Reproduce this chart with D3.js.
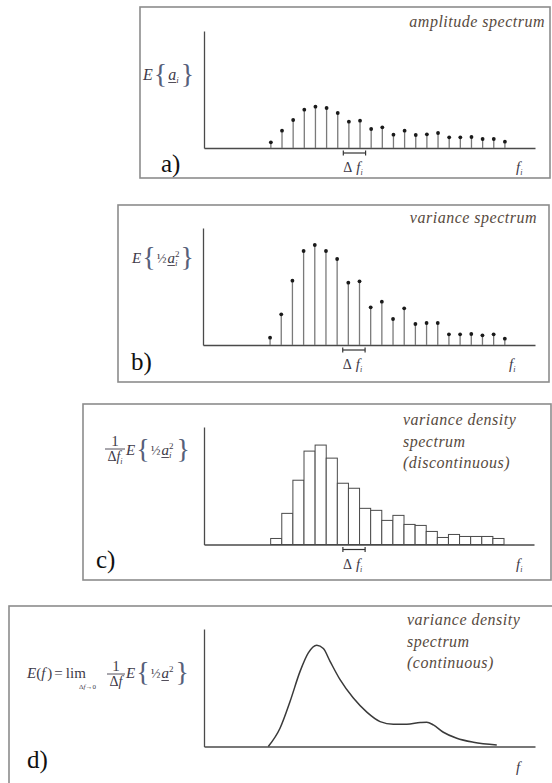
<!DOCTYPE html>
<html><head><meta charset="utf-8">
<script src="https://cdn.jsdelivr.net/npm/d3@7"></script>
<style>body{margin:0;background:#fff}</style>
</head><body><svg id="c" width="552" height="783"></svg>
<script>
// ---------- data ----------
const stemFreq = [6,7,8,9,10,11,12,13,14,15,16,17,18,19,20,21,22,23,24,25,26,27];
const amplitude = [5.7,17.3,28,38.3,41.3,40,35,26.3,27.3,19,20.7,13.3,17.3,13,13.7,15,10.7,10.7,11,9,9,6.3];
const variance  = [7.3,30.7,64.3,94,100,94,86,62.3,63.7,37.7,43.3,26,36.7,21,22,22,10.7,10.7,11,9.7,10.7,6.3];
const binStart  = [6,7,8,9,10,11,12,13,14,15,16,17,18,19,20,21,22,23,24,25,26];
const densityBins = [6,31,64,93,99,86,61,56,36,34,24,29,20,19,13,7,10,8,8,8,6];
const contFreq = [5.77,6.82,7.72,8.62,9.36,10.12,10.71,11.31,12.21,13.4,14.61,15.8,16.99,18.2,19.39,19.99,20.58,21.48,22.68,24.17,26.27];
const contDensity = [0,18.2,44.8,74.8,93.2,100.8,97.5,84.8,66.5,48.2,34.2,24.8,22.2,22.2,23.8,24.2,21.5,14.2,8.2,4.2,1.5];
const panelLabels = ["a)","b)","c)","d)"];
const titleA = ["amplitude spectrum"];
const titleB = ["variance spectrum"];
const titleC = ["variance density","spectrum","(discontinuous)"];
const titleD = ["variance density","spectrum","(continuous)"];
const bandwidth = [12.5,14.5];

// ---------- drawing ----------
const svg = d3.select("#c");
const serif = '"Liberation Serif"';
const fcol = "#3e3a48";
const bcol = "#56607a";

function rich(g, x, y, parts){
  let cx = x, maxw = 0;
  parts.forEach(p=>{
    if(p.gap) cx += p.gap;
    if(p.t===undefined) return;
    const t = g.append("text").attr("x",cx).attr("y",y+(p.dy||0)).text(p.t)
      .style("font-family",serif).attr("font-size",p.size||13)
      .style("font-style",p.italic?"italic":"normal").attr("fill",p.color||fcol);
    const w = t.node().getComputedTextLength();
    if(p.underline) g.append("line").attr("x1",cx).attr("x2",cx+w).attr("y1",y+2.5).attr("y2",y+2.5)
      .attr("stroke",p.color||fcol).attr("stroke-width",0.9);
    if(p.stack){ maxw = Math.max(maxw,w); }
    else { cx += Math.max(w,maxw); maxw = 0; }
  });
  return cx;
}
function frac(g, cx, ly, num, den, w){
  g.append("line").attr("x1",cx-w/2).attr("x2",cx+w/2).attr("y1",ly).attr("y2",ly).attr("stroke",fcol).attr("stroke-width",0.9);
  const t1 = g.append("g");
  const e1 = rich(t1,0,ly-3,num); t1.attr("transform",`translate(${cx-e1/2},0)`);
  const t2 = g.append("g");
  const e2 = rich(t2,0,ly+12,den); t2.attr("transform",`translate(${cx-e2/2},0)`);
}

function panel(cfg){
  const g = svg.append("g");
  g.append("rect").attr("x",cfg.box[0]).attr("y",cfg.box[1])
    .attr("width",cfg.box[2]-cfg.box[0]).attr("height",cfg.box[3]-cfg.box[1])
    .attr("fill","none").attr("stroke","#8c8c8c").attr("stroke-width",1.6);
  const x = d3.scaleLinear().domain([0,29.7]).range([cfg.x0, cfg.x1]);
  const y = d3.scaleLinear().domain([0,117]).range([cfg.base, cfg.top]);
  g.append("g").attr("transform",`translate(0,${cfg.base})`)
    .call(d3.axisBottom(x).tickValues([]).tickSizeOuter(0))
    .call(s=>s.select(".domain").attr("stroke","#4a4a4a").attr("stroke-width",1.3));
  g.append("g").attr("transform",`translate(${cfg.x0},0)`)
    .call(d3.axisLeft(y).tickValues([]).tickSizeOuter(0))
    .call(s=>s.select(".domain").attr("stroke","#4a4a4a").attr("stroke-width",1.3));
  g.append("text").attr("x",cfg.lab[0]).attr("y",cfg.lab[1]).text(cfg.label)
    .style("font-family",serif).attr("font-size",25).attr("fill","#111");
  return {g,x,y};
}

function stems(p, vals){
  p.g.selectAll(".stem").data(vals).enter().append("line")
    .attr("x1",(d,i)=>p.x(stemFreq[i])).attr("x2",(d,i)=>p.x(stemFreq[i]))
    .attr("y1",p.y(0)).attr("y2",d=>p.y(d)).attr("stroke","#7a7a7a").attr("stroke-width",1.3);
  p.g.selectAll(".dot").data(vals).enter().append("circle")
    .attr("cx",(d,i)=>p.x(stemFreq[i])).attr("cy",d=>p.y(d)).attr("r",1.9).attr("fill","#1a1a1a");
}
function bracket(p, base, fx){
  const x1 = p.x(bandwidth[0]), x2 = p.x(bandwidth[1]), yy = base+5;
  p.g.append("line").attr("x1",x1).attr("x2",x2).attr("y1",yy).attr("y2",yy).attr("stroke","#333").attr("stroke-width",1.2);
  [x1,x2].forEach(v=>p.g.append("line").attr("x1",v).attr("x2",v).attr("y1",yy-2.5).attr("y2",yy+2.5).attr("stroke","#333").attr("stroke-width",1.2));
  rich(p.g, x1, base+24, [{t:"Δ",size:14},{gap:4,t:"f",italic:true,size:15},{t:"i",italic:true,size:8,dy:3}]);
  rich(p.g, fx, base+24, [{t:"f",italic:true,size:15},{t:"i",italic:true,size:8,dy:3}]);
}
function titles(g, lines, x, y0, anchor, step){
  lines.forEach((s,i)=>g.append("text").attr("x",x).attr("y",y0+i*step).text(s)
    .attr("text-anchor",anchor).style("font-family",serif).style("font-style","italic")
    .attr("font-size",16).attr("letter-spacing",0.5).attr("fill","#574a3e"));
}

// Panel a
const pa = panel({box:[140,7,550,178],x0:204,x1:535,base:148,top:31,lab:[161,172],label:panelLabels[0]});
stems(pa, amplitude);
bracket(pa, 148, 516);
titles(pa.g, titleA, 545, 27, "end", 0);
rich(pa.g, 143, 80, [{t:"E",italic:true,size:16},{gap:1,t:"{",size:28,color:bcol,dy:3},{gap:1,t:"a",italic:true,size:16,underline:true},{t:"i",italic:true,size:9,dy:3},{gap:2,t:"}",size:28,color:bcol,dy:3}]);

// Panel b
const pb = panel({box:[118,205,549,382],x0:203,x1:535,base:345,top:228,lab:[131,370],label:panelLabels[1]});
stems(pb, variance);
bracket(pb, 345, 509);
titles(pb.g, titleB, 537, 223, "end", 0);
rich(pb.g, 132, 263, [{t:"E",italic:true,size:15},{gap:1,t:"{",size:28,color:bcol,dy:3},{gap:1,t:"½",size:13},{gap:1,t:"a",italic:true,size:15,underline:true},{t:"2",size:9,dy:-6,stack:true},{t:"i",italic:true,size:9,dy:3},{gap:1,t:"}",size:28,color:bcol,dy:3}]);

// Panel c
const pc = panel({box:[83,404,551,580],x0:204,x1:534,base:544.5,top:427,lab:[96,568],label:panelLabels[2]});
pc.g.selectAll(".bar").data(densityBins).enter().append("rect")
  .attr("x",(d,i)=>pc.x(binStart[i])).attr("width",(d,i)=>pc.x(binStart[i]+1)-pc.x(binStart[i]))
  .attr("y",d=>pc.y(d)).attr("height",d=>pc.y(0)-pc.y(d))
  .attr("fill","#fff").attr("stroke","#4a4a4a").attr("stroke-width",1);
pc.g.select("g").raise();
bracket(pc, 544.5, 516);
titles(pc.g, titleC, 403, 425, "start", 21.5);
frac(pc.g, 115, 449, [{t:"1",size:15}], [{t:"Δ",size:14},{t:"f",italic:true,size:14},{t:"i",italic:true,size:8,dy:3}], 20);
rich(pc.g, 126, 455, [{t:"E",italic:true,size:15},{gap:1,t:"{",size:28,color:bcol,dy:3},{gap:1,t:"½",size:13},{gap:1,t:"a",italic:true,size:15,underline:true},{t:"2",size:9,dy:-6,stack:true},{t:"i",italic:true,size:9,dy:3},{gap:3,t:"}",size:28,color:bcol,dy:3}]);

// Panel d
const pd = panel({box:[9,606,570,800],x0:204,x1:535,base:746.5,top:629,lab:[27,768],label:panelLabels[3]});
const line = d3.line().x((d,i)=>pd.x(contFreq[i])).y(d=>pd.y(d)).curve(d3.curveMonotoneX);
pd.g.append("path").datum(contDensity).attr("d",line).attr("fill","none").attr("stroke","#3a3a3a").attr("stroke-width",1.5);
rich(pd.g, 516, 772, [{t:"f",italic:true,size:15}]);
titles(pd.g, titleD, 407, 625, "start", 21.5);
rich(pd.g, 27, 678, [{t:"E",italic:true,size:15},{t:"(",size:15},{t:"f",italic:true,size:15},{gap:2,t:")",size:15},{gap:2,t:"=",size:15},{gap:3,t:"lim",size:15}]);
rich(pd.g, 79, 689, [{t:"Δ",size:7},{t:"f",italic:true,size:7},{t:" →0",size:7}]);
frac(pd.g, 116, 674, [{t:"1",size:15}], [{t:"Δ",size:14},{t:"f",italic:true,size:14}], 18);
rich(pd.g, 126, 678, [{t:"E",italic:true,size:15},{gap:1,t:"{",size:28,color:bcol,dy:3},{gap:1,t:"½",size:13},{gap:1,t:"a",italic:true,size:15,underline:true},{t:"2",size:9,dy:-6},{gap:2,t:"}",size:28,color:bcol,dy:3}]);
</script></body></html>
